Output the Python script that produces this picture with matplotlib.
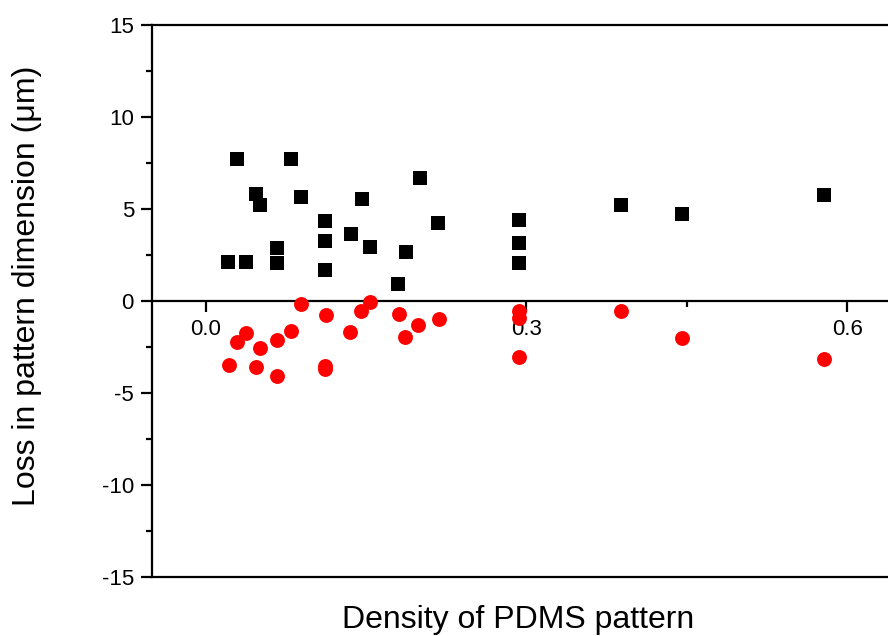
import matplotlib
matplotlib.use("Agg")
import matplotlib.pyplot as plt
from matplotlib.ticker import MultipleLocator, FixedLocator

plt.rcParams['font.family'] = ['Liberation Sans', 'DejaVu Sans']
plt.rcParams['axes.unicode_minus'] = False

# black squares (positive loss)
sq_x = [0.029, 0.080, 0.047, 0.051, 0.089, 0.021, 0.038, 0.067, 0.067,
        0.112, 0.112, 0.112, 0.136, 0.146, 0.154, 0.180, 0.187, 0.200,
        0.217, 0.293, 0.293, 0.293, 0.388, 0.445, 0.578]
sq_y = [7.72, 7.70, 5.80, 5.22, 5.67, 2.14, 2.14, 2.86, 2.05,
        4.36, 3.28, 1.68, 3.64, 5.54, 2.95, 0.92, 2.65, 6.68,
        4.24, 4.40, 3.13, 2.08, 5.20, 4.73, 5.76]

# red circles (negative loss)
ci_x = [0.089, 0.113, 0.154, 0.145, 0.181, 0.218, 0.199, 0.186, 0.135,
        0.080, 0.038, 0.029, 0.051, 0.067, 0.022, 0.047, 0.067, 0.112,
        0.112, 0.293, 0.293, 0.293, 0.388, 0.445, 0.578]
ci_y = [-0.15, -0.76, -0.04, -0.53, -0.69, -0.98, -1.30, -1.96, -1.67,
        -1.65, -1.76, -2.23, -2.57, -2.12, -3.50, -3.60, -4.06, -3.53,
        -3.71, -0.53, -0.94, -3.06, -0.54, -2.03, -3.17]

fig = plt.figure(figsize=(8.88, 6.36), dpi=100)
ax = fig.add_axes([0.1712, 0.0928, 0.8434, 0.868])

ax.scatter(sq_x, sq_y, marker='s', s=90, color='black', linewidths=0, zorder=3, clip_on=False)
ax.scatter(ci_x, ci_y, marker='o', s=115, color='red', linewidths=0, zorder=3, clip_on=False)

ax.set_xlim(-0.05, 0.65)
ax.set_ylim(-15, 15)

ax.spines['bottom'].set_position(('data', 0))
ax.spines['right'].set_visible(False)
for sp in ['left', 'bottom', 'top']:
    ax.spines[sp].set_linewidth(1.6)
# frame line along the bottom at y = -15
ax.axhline(-15, color='black', linewidth=1.6, clip_on=False, zorder=2)

ax.xaxis.set_major_locator(FixedLocator([0.0, 0.3, 0.6]))
ax.xaxis.set_minor_locator(FixedLocator([0.15, 0.45]))
ax.yaxis.set_major_locator(MultipleLocator(5))
ax.yaxis.set_minor_locator(MultipleLocator(2.5))
ax.set_xticklabels(['0.0', '0.3', '0.6'])

ax.tick_params(axis='x', which='major', direction='out', length=8, width=1.6,
               labelsize=16, pad=5, top=False)
ax.tick_params(axis='x', which='minor', direction='out', length=4, width=1.6, top=False)
ax.tick_params(axis='y', which='major', direction='out', length=8, width=1.6,
               labelsize=16, pad=5, right=False)
ax.tick_params(axis='y', which='minor', direction='out', length=4, width=1.6, right=False)

fig.text(0.584, 0.025, 'Density of PDMS pattern', fontsize=23, ha='center', va='center')
fig.text(0.03, 0.55, 'Loss in pattern dimension (\u03bcm)', fontsize=23,
         ha='center', va='center', rotation=90)

fig.savefig('out.png', dpi=100)
